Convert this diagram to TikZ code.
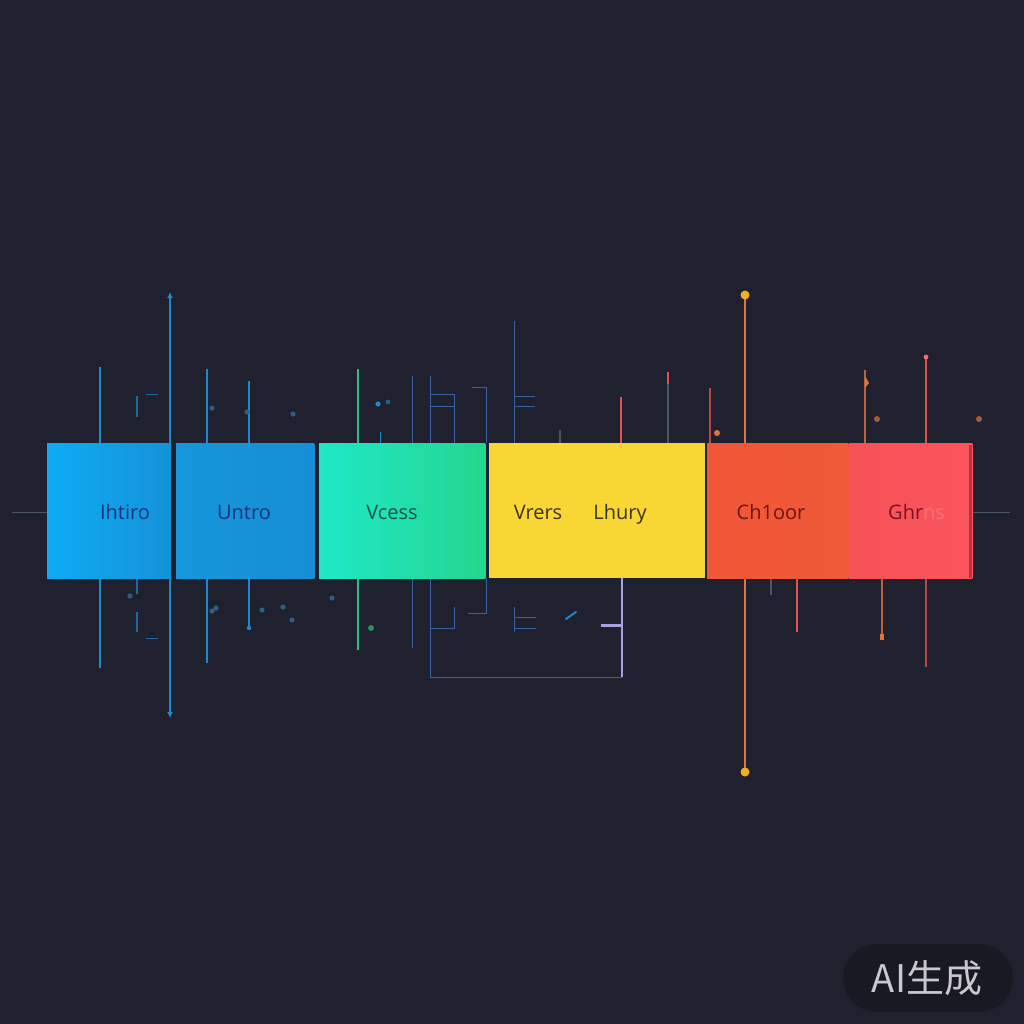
\documentclass[tikz,border=0pt]{standalone}
\usepackage{fontspec}
\setmainfont{Open Sans}
\newfontfamily\cjk{Noto Sans CJK SC}
\usetikzlibrary{arrows.meta}
\definecolor{bg}{HTML}{20212F}
\definecolor{lblue}{HTML}{1E88C8}
\definecolor{dblue}{HTML}{3A62A0}
\definecolor{lgreen}{HTML}{2FBF80}
\definecolor{lav}{HTML}{A9A2E0}
\definecolor{lorange}{HTML}{E0743F}
\definecolor{lred}{HTML}{E2504E}
\definecolor{lgray}{HTML}{4A5566}
\definecolor{dotc}{HTML}{2E5E80}
\definecolor{b1l}{HTML}{0EACF5}
\definecolor{b1r}{HTML}{1592D8}
\definecolor{b2l}{HTML}{1696DC}
\definecolor{b2r}{HTML}{168ED4}
\definecolor{b3l}{HTML}{1EE8C8}
\definecolor{b3r}{HTML}{24D68E}
\definecolor{b4c}{HTML}{F8D634}
\definecolor{b5l}{HTML}{F05637}
\definecolor{b5r}{HTML}{F05A38}
\definecolor{b6l}{HTML}{F65258}
\definecolor{b6r}{HTML}{FA545C}
\definecolor{b6edge}{HTML}{BE323C}
\definecolor{tblue}{HTML}{143278}
\definecolor{tgreen}{HTML}{145046}
\definecolor{tyel}{HTML}{3C321E}
\definecolor{tora}{HTML}{6E1414}
\definecolor{tred}{HTML}{78141E}
\definecolor{tfaint}{HTML}{F87078}
\definecolor{wmbg}{HTML}{181922}
\definecolor{wmtx}{HTML}{C8C8CD}
\definecolor{ydot}{HTML}{F0B020}
\tikzset{
  box/.style={draw=none,minimum height=135pt,inner sep=0pt,anchor=north west},
  lbl/.style={font=\fontsize{20}{20}\selectfont,anchor=base,inner sep=0pt},
  vl/.style={line width=1.6pt},
  thin/.style={line width=1pt},
  dotm/.style={fill=dotc,draw=none}
}
\begin{document}
\begin{tikzpicture}[x=1pt,y=-1pt]
\useasboundingbox (0,0) rectangle (1024,1024);
\fill[bg] (0,0) rectangle (1024,1024);

% side lines
\draw[lgray,thin] (12,512) -- (47,512);
\draw[lgray,thin] (972,512) -- (1010,512);

% ---- left blue lines
\draw[lblue,vl] (100,367) -- (100,443);
\draw[lblue,vl] (100,578) -- (100,668);
\draw[lblue,vl,{Latex[length=6pt,width=6pt]}-{Latex[length=6pt,width=6pt]}] (170,292) -- (170,718);
\draw[lblue!70!bg,line width=2.5pt] (137,396) -- (137,417);
\draw[lblue!70!bg,thin] (146,394) -- (158,394);
\draw[lblue!70!bg,line width=2.5pt] (137,578) -- (137,594);
\draw[lblue!70!bg,line width=2.5pt] (137,612) -- (137,632);
\draw[lblue!70!bg,thin] (146,638) -- (158,638);
\draw[lblue,vl] (207,369) -- (207,443);
\draw[lblue,vl] (207,578) -- (207,663);
\draw[lblue,vl] (249,381) -- (249,443);
\draw[lblue,vl] (249,578) -- (249,627);
\fill[lblue] (249,628) circle (2.2);
\foreach \p in {(212,408),(247,412),(293,414),(130,596),(212,611),(262,610),(283,607),(292,620),(332,598),(216,608)}
  \fill[dotm] \p circle (2.6);

% ---- middle lines
\draw[lgreen,vl] (358,369) -- (358,443);
\draw[lgreen,vl] (358,578) -- (358,650);
\fill[lgreen!70!bg] (371,628) circle (3);
\draw[lblue,thin] (380,432) -- (380,443);
\fill[lblue] (378,404) circle (2.6);
\fill[lblue!60!bg] (388,402) circle (2.4);
\draw[dblue,thin] (412,376) -- (412,443);
\draw[dblue,thin] (412,578) -- (412,648);
\draw[dblue,thin] (430,376) -- (430,443);
\draw[dblue,thin] (430,394) -- (454,394) -- (454,443);
\draw[dblue,thin] (430,406) -- (454,406);
\draw[dblue,thin] (472,387) -- (486,387) -- (486,443);
\draw[dblue,thin] (514,321) -- (514,443);
\draw[dblue,thin] (514,396) -- (535,396);
\draw[dblue,thin] (514,406) -- (535,406);
\draw[lgray,vl] (560,430) -- (560,443);
\draw[lred,vl] (621,397) -- (621,443);
% bracket below
\draw[dblue,thin] (430,578) -- (430,677) -- (622,677);
\draw[lav,vl] (622,677) -- (622,578);
\draw[dblue,thin] (454,607) -- (454,628) -- (430,628);
\draw[dblue,thin] (486,578) -- (486,613) -- (468,613);
\draw[dblue,thin] (514,607) -- (514,632);
\draw[dblue,thin] (514,617) -- (536,617);
\draw[dblue,thin] (514,628) -- (536,628);
\draw[lblue,line width=2pt,line cap=round] (566,619) -- (576,612);
\draw[lav,line width=3pt] (601,625) -- (621,625);

% ---- right lines
\draw[lgray,vl] (668,380) -- (668,443);
\draw[lred,vl] (668,372) -- (668,384);
\draw[lred!80!bg,vl] (710,388) -- (710,443);
\fill[lorange] (717,433) circle (3);
\draw[lorange,vl] (745,295) -- (745,772);
\fill[ydot] (745,295) circle (4.5);
\fill[ydot] (745,772) circle (4.5);
\draw[lgray,line width=2.5pt] (771,578) -- (771,595);
\draw[lred,vl] (797,578) -- (797,632);
\draw[lorange!80!bg,vl] (865,370) -- (865,443);
\fill[lorange] (865,376) -- (869,383) -- (865,388) -- cycle;
\fill[lorange!70!bg] (877,419) circle (3);
\fill[lorange!70!bg] (979,419) circle (3);
\draw[lorange!80!bg,vl] (882,578) -- (882,636);
\fill[lorange] (880,634) rectangle (884,640);
\draw[lred,vl] (926,357) -- (926,443);
\fill[lred!70!pink] (926,357) circle (2.4);
\draw[lred!80!bg,vl] (926,578) -- (926,667);

% ---- boxes
\node[box,minimum width=123pt] (b1) at (47,443) {};
\shade[left color=b1l,right color=b1r] (b1.north west) rectangle (b1.south east);
\node[lbl,text=tblue] (t1) at (125,519) {Ihtiro};

\node[box,minimum width=138pt] (b2) at (176,443) {};
\shade[left color=b2l,right color=b2r] (b2.north west) rectangle (b2.south east);
\node[lbl,text=tblue] (t2) at (244,519) {Untro};

\node[box,minimum width=166pt] (b3) at (319,443) {};
\shade[left color=b3l,right color=b3r] (b3.north west) rectangle (b3.south east);
\node[lbl,text=tgreen] (t3) at (392,519) {Vcess};

\node[box,minimum width=216pt,fill=b4c] (b4) at (489,443) {};
\node[lbl,text=tyel] (t4) at (538,519) {Vrers};
\node[lbl,text=tyel] (t5) at (620,519) {Lhury};

\node[box,minimum width=141pt] (b5) at (707,443) {};
\shade[left color=b5l,right color=b5r] (b5.north west) rectangle (b5.south east);
\node[lbl,text=tora] (t6) at (771,519) {Ch1oor};

\node[box,minimum width=123pt] (b6) at (849,443) {};
\shade[left color=b6l,right color=b6r] (b6.north west) rectangle (b6.south east);
\fill[b6edge] (969,445) rectangle (972,578);
\node[lbl,text=tred,anchor=base west] (t7) at (888,519) {Ghr\textcolor{tfaint}{ns}};

% ---- watermark
\node[draw=none,fill=wmbg,rounded corners=34pt,minimum width=170pt,minimum height=68pt] (wm) at (928,978) {};
\node[text=wmtx,font=\cjk\fontsize{38}{38}\selectfont] (wmt) at (927,978) {AI生成};
\end{tikzpicture}
\end{document}
